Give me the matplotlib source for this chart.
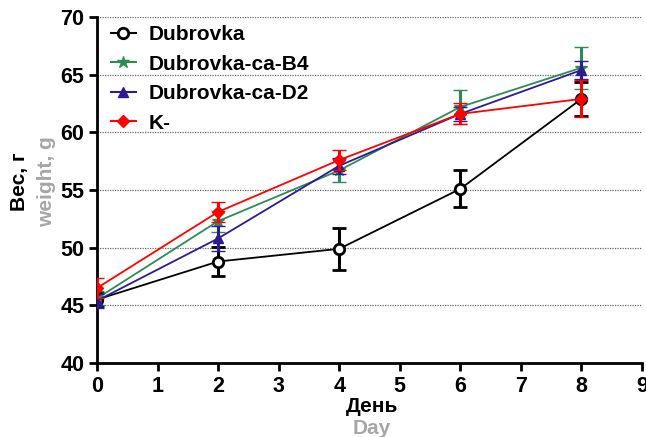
import matplotlib
matplotlib.use("Agg")
import matplotlib.pyplot as plt
from matplotlib.lines import Line2D

plt.rcParams['font.family'] = ['Liberation Sans', 'DejaVu Sans']

days = [0, 2, 4, 6, 8]
series_names = ["Dubrovka", "Dubrovka-ca-B4", "Dubrovka-ca-D2", "K-"]
dubrovka = [45.5, 48.8, 49.9, 55.1, 62.9]
dubrovka_err = [0.6, 1.3, 1.8, 1.6, 1.5]
b4 = [45.6, 52.3, 56.7, 62.2, 65.6]
b4_err = [0.6, 0.9, 1.0, 1.5, 1.8]
d2 = [45.4, 50.8, 57.1, 61.6, 65.4]
d2_err = [0.6, 1.1, 0.7, 0.6, 0.8]
k_minus = [46.5, 53.1, 57.6, 61.6, 62.9]
k_minus_err = [0.9, 0.85, 0.9, 0.9, 1.6]

x_ticks = list(range(0, 10))
y_ticks = [40, 45, 50, 55, 60, 65, 70]

fig = plt.figure(figsize=(6.46, 4.37), dpi=100)
ax = fig.add_axes([97/646, 1-363/437, (642-97)/646, (363-17)/437])

styles = [
    dict(color='black', marker='o', mfc='white', ms=7.5, mew=2),
    dict(color='#2e8b57', marker='*', mfc='#2e8b57', ms=9, mew=1),
    dict(color='#2d1b8f', marker='^', mfc='#2d1b8f', ms=7, mew=1),
    dict(color='#ff0000', marker='D', mfc='#ff0000', ms=6, mew=1),
]
data = [(dubrovka, dubrovka_err), (b4, b4_err), (d2, d2_err), (k_minus, k_minus_err)]

handles = []
for i, ((y, e), name, st) in enumerate(zip(data, series_names, styles)):
    ax.errorbar(days, y, yerr=e, color=st['color'], marker=st['marker'],
                mfc=st['mfc'], mec=st['color'], ms=st['ms'], mew=st['mew'],
                lw=1.3, elinewidth=2.2, capsize=5, capthick=2.2, zorder=3 + i)
    handles.append(Line2D([], [], color=st['color'], marker=st['marker'], mfc=st['mfc'],
                          mec=st['color'], ms=st['ms'], mew=st['mew'], lw=1.5, label=name))

ax.set_xlim(0, 9)
ax.set_ylim(40, 70)
ax.set_xticks(x_ticks)
ax.set_yticks(y_ticks)
ax.yaxis.grid(True, linestyle=(0, (1.0, 1.0)), color='#666666', lw=0.9)
ax.set_axisbelow(True)
for s in ['top', 'right']:
    ax.spines[s].set_visible(False)
for s in ['left', 'bottom']:
    ax.spines[s].set_linewidth(2)
ax.tick_params(width=2, length=6, labelsize=15.5, direction='out', pad=3)
for lab in ax.get_xticklabels() + ax.get_yticklabels():
    lab.set_fontweight('bold')

leg = ax.legend(handles=handles, loc='upper left', frameon=False,
                prop={'size': 15, 'weight': 'bold'},
                handlelength=1.2, handletextpad=0.6, borderaxespad=0.0,
                labelspacing=0.5, bbox_to_anchor=(0.01, 1.0))

fig.text(20/646, 1-182/437, "Вес, г", rotation=90, ha='center', va='center',
         fontsize=15, fontweight='bold', color='black')
fig.text(47/646, 1-182/437, "weight, g", rotation=90, ha='center', va='center',
         fontsize=15, fontweight='bold', color='#a6a6a6')
fig.text(372/646, 1-407/437, "День", ha='center', va='center',
         fontsize=15, fontweight='bold', color='black')
fig.text(372/646, 1-428/437, "Day", ha='center', va='center',
         fontsize=15, fontweight='bold', color='#a6a6a6')

fig.savefig("out.png", dpi=100)
